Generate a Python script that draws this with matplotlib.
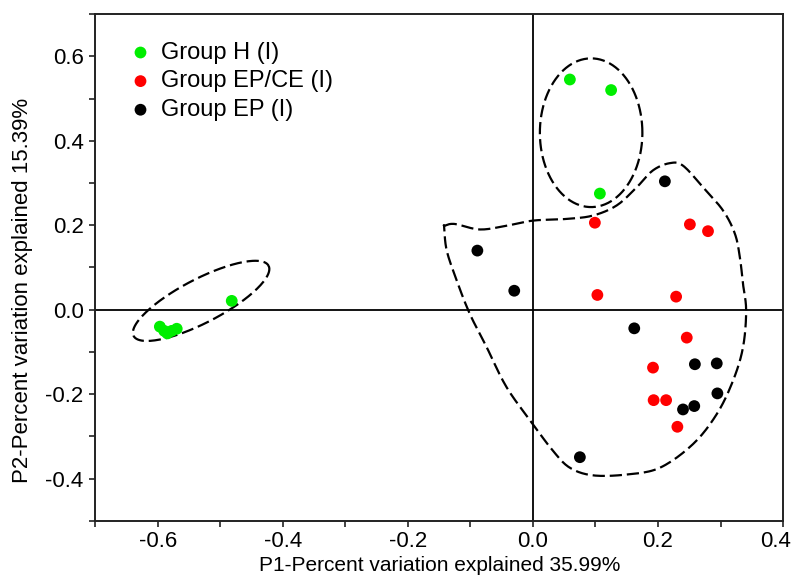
import numpy as np
import matplotlib
matplotlib.use('Agg')
import matplotlib.pyplot as plt
from matplotlib import transforms

# PCoA scores
h_x = [0.059, 0.125, 0.107, -0.482, -0.597, -0.590, -0.578, -0.570, -0.585]
h_y = [0.545, 0.520, 0.275, 0.021, -0.040, -0.050, -0.050, -0.045, -0.056]

epce_x = [0.099, 0.251, 0.280, 0.103, 0.229, 0.246, 0.192, 0.193, 0.213, 0.231]
epce_y = [0.206, 0.202, 0.186, 0.035, 0.031, -0.066, -0.137, -0.214, -0.214, -0.277]

ep_x = [0.211, -0.089, -0.030, 0.162, 0.259, 0.294, 0.295, 0.258, 0.240, 0.075]
ep_y = [0.304, 0.140, 0.045, -0.044, -0.129, -0.127, -0.198, -0.228, -0.236, -0.349]

labels = ['Group H (I)', 'Group EP/CE (I)', 'Group EP (I)']
colors = ['#00ee00', '#ff0000', '#000000']

# hand-drawn outline around the EP groups (data coords)
outline_x = [-0.141, -0.125, -0.085, -0.042, 0.000, 0.054, 0.096, 0.134, 0.166, 0.192,
             0.219, 0.240, 0.272, 0.304, 0.323, 0.331, 0.336, 0.341, 0.336, 0.320,
             0.294, 0.256, 0.203, 0.150, 0.096, 0.059, 0.032, 0.000, -0.042, -0.074,
             -0.101, -0.122, -0.138, -0.142]
outline_y = [0.199, 0.203, 0.190, 0.199, 0.211, 0.215, 0.223, 0.247, 0.290, 0.330,
             0.347, 0.341, 0.290, 0.235, 0.180, 0.124, 0.061, -0.002, -0.089, -0.168,
             -0.247, -0.318, -0.374, -0.390, -0.392, -0.374, -0.334, -0.271, -0.184, -0.089,
             -0.010, 0.069, 0.140, 0.195]

# ellipses: center, half-axis vectors (data units)
top_ell = dict(c=(0.093, 0.419), u=(0.082, 0.0), v=(0.0, 0.176))
left_ell = dict(c=(-0.531, 0.021), u=(0.108, 0.083), v=(0.016, -0.046))


def ellipse_pts(c, u, v, n=200):
    t = np.linspace(0, 2 * np.pi, n)
    x = c[0] + u[0] * np.cos(t) + v[0] * np.sin(t)
    y = c[1] + u[1] * np.cos(t) + v[1] * np.sin(t)
    return x, y


# closed catmull-rom curve through the outline vertices
def smooth_closed(xs, ys, k=12):
    p = np.column_stack([xs, ys])
    n = len(p)
    out = []
    for i in range(n):
        p0, p1, p2, p3 = p[i - 1], p[i], p[(i + 1) % n], p[(i + 2) % n]
        for t in np.linspace(0, 1, k, endpoint=False):
            t2, t3 = t * t, t * t * t
            out.append(0.5 * (2 * p1 + (-p0 + p2) * t + (2 * p0 - 5 * p1 + 4 * p2 - p3) * t2
                              + (-p0 + 3 * p1 - 3 * p2 + p3) * t3))
    out.append(out[0])
    out = np.array(out)
    return out[:, 0], out[:, 1]


plt.rcParams['font.family'] = ['Liberation Sans', 'DejaVu Sans']

fig = plt.figure(figsize=(7.93, 5.79), dpi=100)
ax = fig.add_axes([0.1204, 0.1002, 0.8670, 0.8756])

ax.axhline(0, color='black', lw=1.3, zorder=1)
ax.axvline(0, color='black', lw=1.3, zorder=1)

dash = (0, (5.5, 2.2))
ox, oy = smooth_closed(outline_x, outline_y)
ax.plot(ox, oy, color='black', lw=1.6, linestyle=dash, zorder=2)
for e in (top_ell, left_ell):
    ex, ey = ellipse_pts(e['c'], e['u'], e['v'])
    ax.plot(ex, ey, color='black', lw=1.6, linestyle=dash, zorder=2)

for xs, ys, lab, col in zip([h_x, epce_x, ep_x], [h_y, epce_y, ep_y], labels, colors):
    ax.scatter(xs, ys, s=72, color=col, label=lab, edgecolors='none', zorder=3)

ax.set_xlim(-0.7, 0.4)
ax.set_ylim(-0.5, 0.7)
ax.set_xticks(np.arange(-0.6, 0.41, 0.2))
ax.set_xticks(np.arange(-0.7, 0.41, 0.1), minor=True)
ax.set_yticks(np.arange(-0.4, 0.61, 0.2))
ax.set_yticks(np.arange(-0.5, 0.71, 0.1), minor=True)
ax.xaxis.set_major_formatter(plt.FormatStrFormatter('%.1f'))
ax.yaxis.set_major_formatter(plt.FormatStrFormatter('%.1f'))
ax.tick_params(which='both', direction='out', length=4.5, width=1.2, color='#222222')
ax.tick_params(axis='y', labelsize=16, pad=4)
ax.tick_params(axis='x', labelsize=16, pad=3)
for s in ax.spines.values():
    s.set_linewidth(1.4)
    s.set_color('#222222')

# keep the last x label inside the figure edge
last = ax.xaxis.get_major_ticks()[-1].label1
last.set_transform(last.get_transform() + transforms.ScaledTranslation(-7 / 100, 0, fig.dpi_scale_trans))

ax.set_xlabel('P1-Percent variation explained 35.99%', fontsize=15)
ax.set_ylabel('P2-Percent variation explained 15.39%', fontsize=16)
ax.xaxis.set_label_coords(0.5, -0.069)
ax.yaxis.set_label_coords(-0.091, 0.454)

ax.legend(loc='upper left', bbox_to_anchor=(0.038, 0.964), frameon=False, fontsize=17,
          handlelength=0.8, handletextpad=0.45, labelspacing=0.28, borderaxespad=0,
          scatterpoints=1)

fig.savefig('out.png', dpi=100)
